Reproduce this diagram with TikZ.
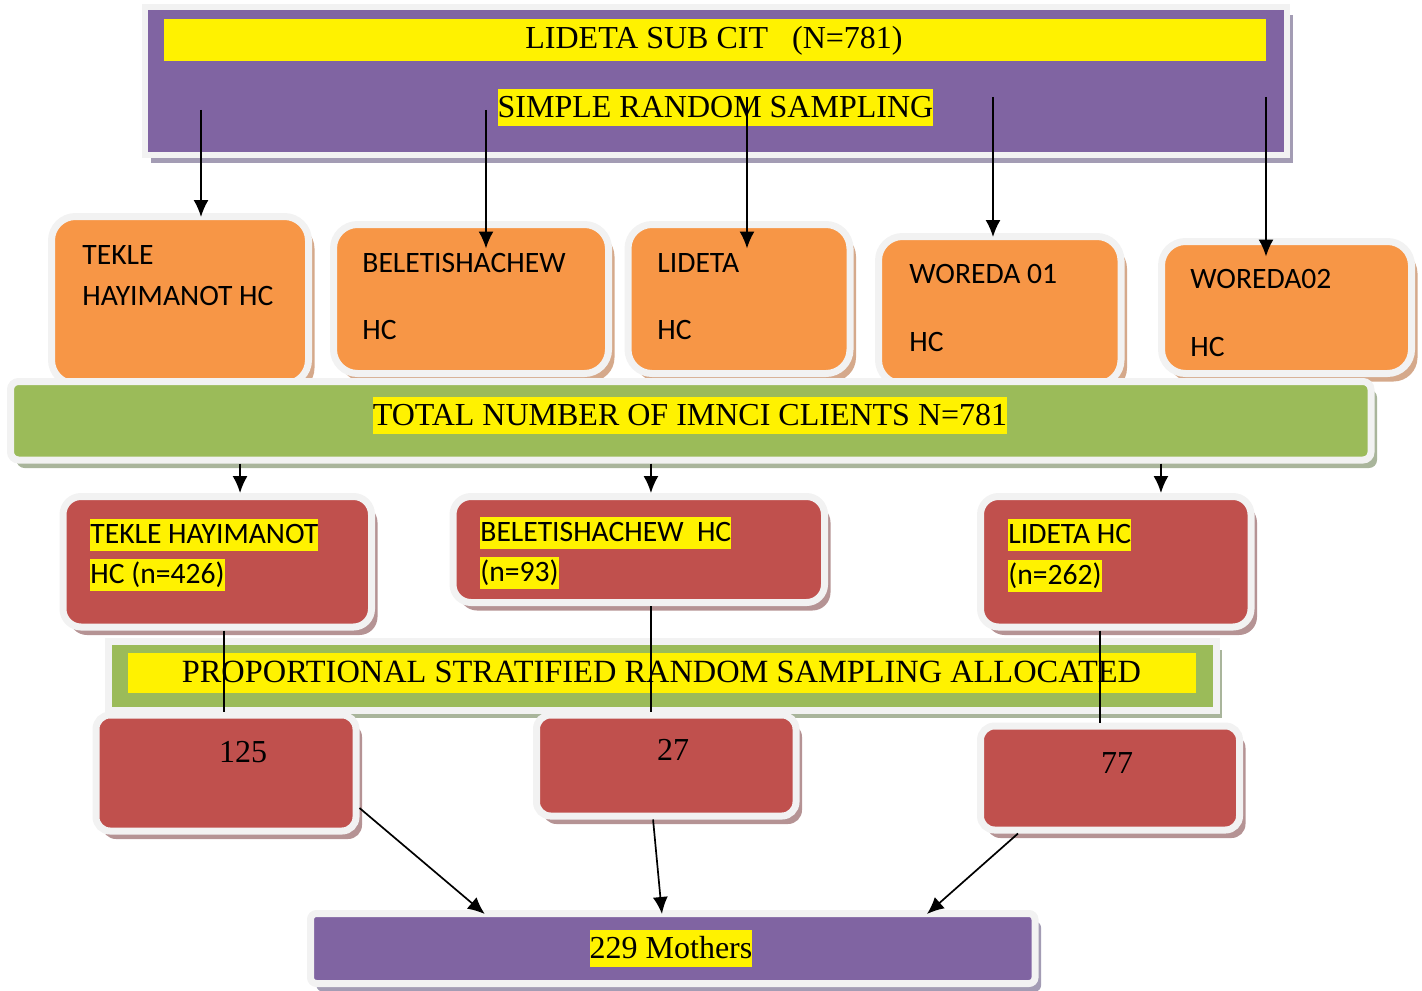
\documentclass[tikz,border=0pt]{standalone}
\usepackage{fontspec}
\setmainfont{Liberation Serif}
\newfontfamily\calibri{Carlito}
\usetikzlibrary{arrows.meta}
\usetikzlibrary{fit}
\usetikzlibrary{shadows}
\definecolor{rim}{HTML}{F2F2F2}
\definecolor{lavender}{HTML}{8064A2}
\definecolor{lavshadow}{HTML}{A39CB4}
\definecolor{tangerine}{HTML}{F79646}
\definecolor{tanshadow}{HTML}{D5A98B}
\definecolor{leaf}{HTML}{9BBB59}
\definecolor{leafshadow}{HTML}{A9B59B}
\definecolor{brick}{HTML}{C0504D}
\definecolor{brickshadow}{HTML}{B59394}
\tikzset{rimmed/.style={draw=rim,line width=3.5pt,inner sep=0pt}}
\tikzset{purplebox/.style={rimmed,fill=lavender,
                           general shadow={fill=lavshadow,shadow xshift=3pt,shadow yshift=-4pt}}}
\tikzset{orangebox/.style={rimmed,fill=tangerine,rounded corners=12pt,
                           general shadow={fill=tanshadow,shadow xshift=3pt,shadow yshift=-4pt}}}
\tikzset{greenbox/.style={rimmed,fill=leaf,
                          general shadow={fill=leafshadow,shadow xshift=3pt,shadow yshift=-4pt}}}
\tikzset{redbox/.style={rimmed,fill=brick,rounded corners=9pt,
                        general shadow={fill=brickshadow,shadow xshift=3pt,shadow yshift=-4pt}}}
\tikzset{serif/.style={font=\fontsize{16}{19}\selectfont,inner sep=0pt,anchor=base}}
\tikzset{hctext/.style={font=\calibri\fontsize{14.8}{17}\selectfont,inner sep=0pt,anchor=base west}}

\begin{document}
\begin{tikzpicture}[x=0.5pt,y=-0.5pt]
    \tikzstyle{hilite}=[fill=yellow,inner xsep=0pt,inner ysep=0.75pt,text height=13.5pt,text depth=3.5pt]
    \tikzstyle{hchilite}=[fill=yellow,inner xsep=0pt,inner ysep=0.5pt,text height=11.5pt,text depth=3.5pt]
    \tikzstyle{arr}=[-{Latex[length=8.5pt,width=7.5pt]},line width=0.85pt]
    \tikzstyle{link}=[line width=0.8pt]
    \useasboundingbox (0,0) rectangle (1422,990);

    % Draw the sub city box
    \node[purplebox,line width=3pt,fit={(145,7.5) (1286.5,154.5)}] (top) {};
    \node[fill=yellow,inner sep=0pt,fit={(164,19) (1266,61)}] (topbar) {};
    \node[serif] (title) at (714,48.5) {LIDETA SUB CIT\ \ \ (N=781)};
    \node[serif,hilite] (srs) at (715.5,117.5) {SIMPLE RANDOM SAMPLING};

    % Draw the health centres
    \foreach \name/\l/\t/\r/\b in {o1/51.5/216.5/308.5/384,o2/333.5/224.5/608.5/373.5,
                                   o3/628/224.5/850/373.5,o4/878.5/236.5/1121/384,
                                   o5/1161.5/241.5/1411.5/373.5}
        \node[orangebox,fit={(\l,\t) (\r,\b)}] (\name) {};
    \foreach \name/\x/\y/\txt in {o1a/82/264/TEKLE,o1b/82/305/HAYIMANOT HC,
                                  o2a/362/272/BELETISHACHEW,o2b/362/339/HC,
                                  o3a/657/272/LIDETA,o3b/657/339/HC,
                                  o4a/909/283/WOREDA 01,o4b/909/351/HC,
                                  o5a/1190/288/WOREDA02,o5b/1190/356/HC}
        \node[hctext] (\name) at (\x,\y) {\txt};

    % Connect the sub city with every health centre
    \coordinate (s1) at (201,110);
    \coordinate (s2) at (486,110);
    \coordinate (s3) at (747,97);
    \coordinate (s4) at (993,97);
    \coordinate (s5) at (1266,97);
    \draw[arr] (s1) -- ([yshift=-2pt]s1 |- o1.north);
    \draw[arr] (s2) -- ([yshift=-13.75pt]s2 |- o2.north);
    \draw[arr] (s3) -- ([yshift=-13.75pt]s3 |- o3.north);
    \draw[arr] (s4) -- ([yshift=-2pt]s4 |- o4.north);
    \draw[arr] (s5) -- ([yshift=-9.25pt]s5 |- o5.north);

    % Total number of clients
    \node[greenbox,rounded corners=4pt,fit={(10.5,381.5) (1371,460)}] (total) {};
    \node[serif,hilite] (total-txt) at (690,425) {TOTAL NUMBER OF IMNCI CLIENTS N=781};

    % Draw the selected health centres
    \foreach \name/\l/\t/\r/\b in {r1/63/496.5/371.5/627,r2/453/496.5/824.5/602.5,
                                   r3/980.5/496.5/1251/627}
        \node[redbox,fit={(\l,\t) (\r,\b)}] (\name) {};
    \foreach \name/\x/\y/\txt in {r1a/90/543/TEKLE HAYIMANOT,r1b/90/583/HC (n=426),
                                  r2a/480/541/BELETISHACHEW\ \ HC,r2b/480/581/(n=93),
                                  r3a/1008/543/LIDETA HC,r3b/1008/584/(n=262)}
        \node[hctext,hchilite] (\name) at (\x,\y) {\txt};

    \draw[arr] ([xshift=11.4pt]r1.north |- total.south) -- ([xshift=11.4pt]r1.north);
    \draw[arr] ([xshift=6.1pt]r2.north |- total.south) -- ([xshift=6.1pt]r2.north);
    \draw[arr] ([xshift=22.6pt]r3.north |- total.south) -- ([xshift=22.6pt]r3.north);

    % Allocation
    \node[greenbox,fit={(108.5,641.5) (1216,710)}] (prop) {};
    \node[fill=yellow,inner sep=0pt,fit={(128,653) (1196,693)}] (propbar) {};
    \node[serif,font=\fontsize{16.2}{19}\selectfont] (prop-txt) at (661.5,682)
        {PROPORTIONAL STRATIFIED RANDOM SAMPLING ALLOCATED};

    \foreach \name/\l/\t/\r/\b in {n1/96/715/356/831,n2/536.5/715/796/816,
                                   n3/980.5/726/1239.5/830}
        \node[redbox,rounded corners=7pt,fit={(\l,\t) (\r,\b)}] (\name) {};
    \node[serif] (n1-txt) at (243,762) {125};
    \node[serif] (n2-txt) at (673,760) {27};
    \node[serif] (n3-txt) at (1117,773) {77};

    \draw[link] ([xshift=3.4pt]r1.south) -- ([xshift=3.4pt]r1.south |- n1.north);
    \draw[link] ([xshift=6.1pt]r2.south) -- ([xshift=6.1pt]r2.south |- n2.north);
    \draw[link] ([xshift=-7.9pt]r3.south) -- ([xshift=-7.9pt]r3.south |- n3.north);

    % Final sample
    \node[purplebox,rounded corners=3pt,fit={(310.5,913.5) (1035,983.5)}] (mothers) {};
    \node[serif,hilite] (mothers-txt) at (671,958) {229 Mothers};

    \draw[arr] ([yshift=-17.5pt]n1.east) -- ([xshift=-94pt,yshift=-2pt]mothers.north);
    \draw[arr] ([xshift=-6.6pt]n2.south) -- ([xshift=-5.4pt,yshift=-2pt]mothers.north);
    \draw[arr] ([xshift=-46pt]n3.south) -- ([xshift=127.1pt,yshift=-2pt]mothers.north);
\end{tikzpicture}
\end{document}
